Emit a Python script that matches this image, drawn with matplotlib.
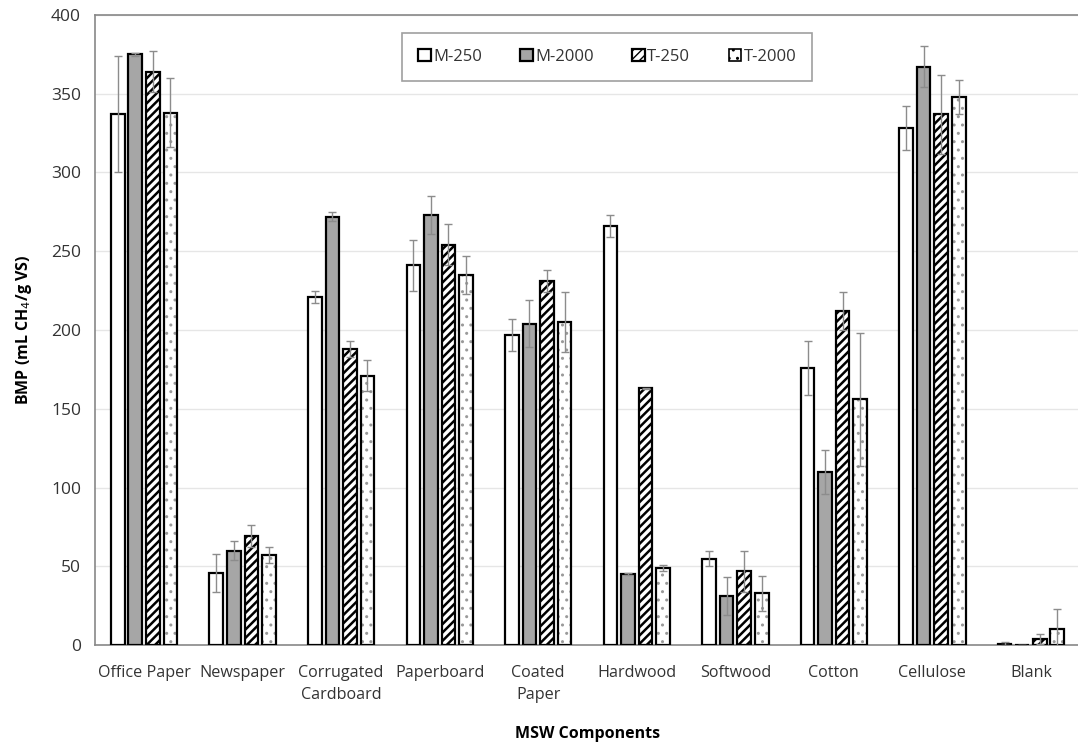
import matplotlib
matplotlib.use("Agg")
import matplotlib.pyplot as plt
import numpy as np

categories = ["Office Paper", "Newspaper", "Corrugated\nCardboard", "Paperboard",
              "Coated\nPaper", "Hardwood", "Softwood", "Cotton", "Cellulose", "Blank"]
series_names = ["M-250", "M-2000", "T-250", "T-2000"]

m250 = [337, 46, 221, 241, 197, 266, 55, 176, 328, 1]
m2000 = [375, 60, 272, 273, 204, 45, 31, 110, 367, 0]
t250 = [364, 69, 188, 254, 231, 163, 47, 212, 337, 4]
t2000 = [338, 57, 171, 235, 205, 49, 33, 156, 348, 10]

m250_err = [37, 12, 4, 16, 10, 7, 5, 17, 14, 1]
m2000_err = [1, 6, 3, 12, 15, 0.5, 12, 14, 13, 0]
t250_err = [13, 7, 5, 13, 7, 0.5, 13, 12, 25, 3]
t2000_err = [22, 5, 10, 12, 19, 2, 11, 42, 11, 13]

values = [m250, m2000, t250, t2000]
errors = [m250_err, m2000_err, t250_err, t2000_err]

plt.rcParams['font.family'] = ['Open Sans', 'DejaVu Sans']

fig = plt.figure(figsize=(10.78, 7.45), dpi=100)
ax = fig.add_axes([0.088, 0.134, 0.914, 0.846])

x = np.arange(len(categories))
width = 0.14
spacing = 0.178
offsets = (np.arange(4) - 1.5) * spacing

handles = []
for i in range(4):
    xs = x + offsets[i]
    if i == 0:
        h = ax.bar(xs, values[i], width, facecolor="white", edgecolor="black",
                   linewidth=1.6, label=series_names[i], zorder=3)
    elif i == 1:
        h = ax.bar(xs, values[i], width, facecolor="#a6a6a6", edgecolor="black",
                   linewidth=1.6, label=series_names[i], zorder=3)
    elif i == 2:
        plt.rcParams['hatch.linewidth'] = 1.8
        h = ax.bar(xs, values[i], width, facecolor="white", edgecolor="black",
                   linewidth=1.6, hatch="////", label=series_names[i], zorder=3)
    else:
        plt.rcParams['hatch.linewidth'] = 1.0
        ax.bar(xs, values[i], width, facecolor="white", edgecolor="#9a9a9a",
               linewidth=0, hatch="..", zorder=3)
        ax.bar(xs, values[i], width, facecolor="none", edgecolor="black",
               linewidth=1.6, zorder=3.5)
        h = ax.bar([np.nan], [np.nan], width, facecolor="white", edgecolor="black",
                   linewidth=1.2, hatch="..", label=series_names[i])
    handles.append(h)
    ax.errorbar(xs, values[i], yerr=errors[i], fmt="none",
                ecolor="#8c8c8c", elinewidth=1.0, capsize=3, capthick=1.0, zorder=4)

ax.set_xlim(-0.5, len(categories) - 0.5)
ax.set_ylim(0, 400)
ax.set_yticks(np.arange(0, 401, 50))
ax.yaxis.grid(True, color="#e6e6e6", linewidth=1.0, zorder=0)
ax.set_axisbelow(True)

ax.set_xticks(x)
ax.set_xticklabels(categories, fontsize=11.6, color="#333333", linespacing=1.5)
ax.tick_params(axis="x", length=0, pad=14)
ax.tick_params(axis="y", length=0, pad=10, labelsize=12.5, labelcolor="#333333")

for s in ["top", "left", "bottom"]:
    ax.spines[s].set_color("#888888")
    ax.spines[s].set_linewidth(1.2)
ax.spines["right"].set_visible(False)

ax.set_ylabel("BMP (mL CH$_4$/g VS)", fontsize=11.5, fontweight="bold", labelpad=12)
ax.set_xlabel("MSW Components", fontsize=11.5, fontweight="bold", va="center")
ax.xaxis.set_label_coords(0.5, -0.141)

leg = ax.legend(handles=handles, loc="upper center", bbox_to_anchor=(0.52, 0.971), ncol=4,
                fontsize=12, frameon=True, fancybox=False, edgecolor="#888888",
                handlelength=0.75, handleheight=0.75, handletextpad=0.15,
                columnspacing=2.3, borderpad=0.95, borderaxespad=0)
leg.get_frame().set_linewidth(1.2)
leg.get_frame().set_boxstyle("square", pad=0.0)
for t in leg.get_texts():
    t.set_color("#333333")

fig.savefig("out.png", dpi=100)
